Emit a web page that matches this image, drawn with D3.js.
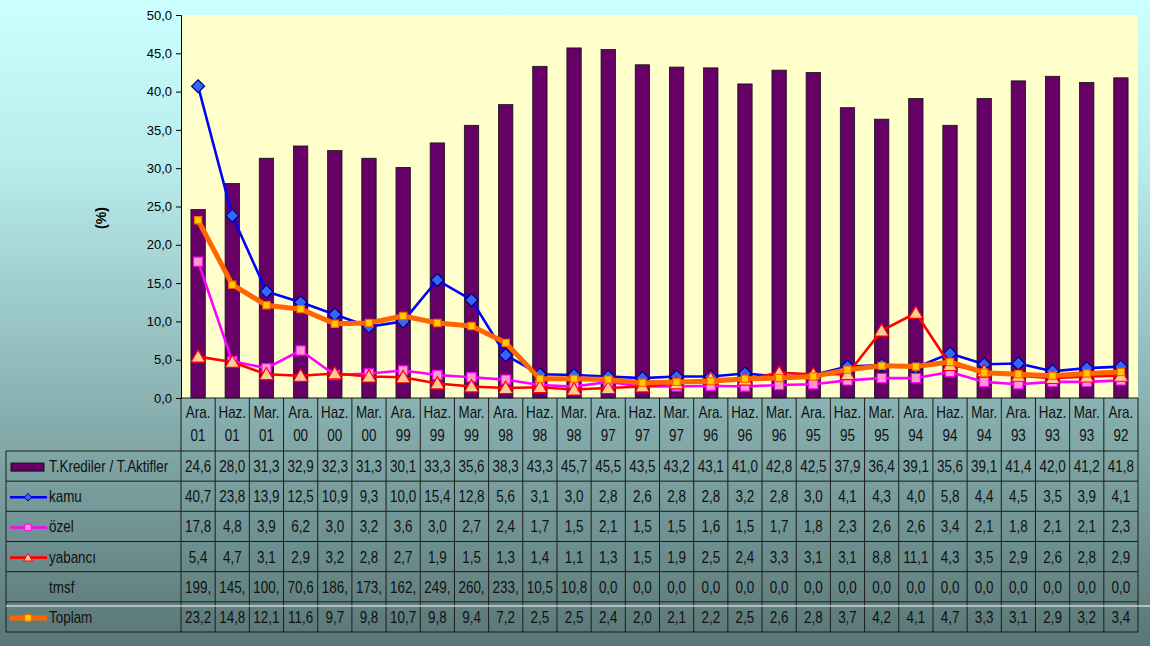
<!DOCTYPE html>
<html><head><meta charset="utf-8">
<script src="https://cdn.jsdelivr.net/npm/d3@7"></script>
<style>html,body{margin:0;padding:0;background:#fff;}svg{display:block;font-family:"Liberation Sans",Arial,sans-serif;}</style>
</head><body>
<script>
const categories = ["Ara. 01","Haz. 01","Mar. 01","Ara. 00","Haz. 00","Mar. 00","Ara. 99","Haz. 99","Mar. 99","Ara. 98","Haz. 98","Mar. 98","Ara. 97","Haz. 97","Mar. 97","Ara. 96","Haz. 96","Mar. 96","Ara. 95","Haz. 95","Mar. 95","Ara. 94","Haz. 94","Mar. 94","Ara. 93","Haz. 93","Mar. 93","Ara. 92"];
const krediAktif = [24.6,28.0,31.3,32.9,32.3,31.3,30.1,33.3,35.6,38.3,43.3,45.7,45.5,43.5,43.2,43.1,41.0,42.8,42.5,37.9,36.4,39.1,35.6,39.1,41.4,42.0,41.2,41.8];
const kamu = [40.7,23.8,13.9,12.5,10.9,9.3,10.0,15.4,12.8,5.6,3.1,3.0,2.8,2.6,2.8,2.8,3.2,2.8,3.0,4.1,4.3,4.0,5.8,4.4,4.5,3.5,3.9,4.1];
const ozel = [17.8,4.8,3.9,6.2,3.0,3.2,3.6,3.0,2.7,2.4,1.7,1.5,2.1,1.5,1.5,1.6,1.5,1.7,1.8,2.3,2.6,2.6,3.4,2.1,1.8,2.1,2.1,2.3];
const yabanci = [5.4,4.7,3.1,2.9,3.2,2.8,2.7,1.9,1.5,1.3,1.4,1.1,1.3,1.5,1.9,2.5,2.4,3.3,3.1,3.1,8.8,11.1,4.3,3.5,2.9,2.6,2.8,2.9];
const tmsf = [199,145,100,70.6,186,173,162,249,260,233,10.5,10.8,0,0,0,0,0,0,0,0,0,0,0,0,0,0,0,0];
const toplam = [23.2,14.8,12.1,11.6,9.7,9.8,10.7,9.8,9.4,7.2,2.5,2.5,2.4,2.0,2.1,2.2,2.5,2.6,2.8,3.7,4.2,4.1,4.7,3.3,3.1,2.9,3.2,3.4];
const yTicks = [0,5,10,15,20,25,30,35,40,45,50];
const seriesNames = ["T.Krediler / T.Aktifler","kamu","özel","yabancı","tmsf","Toplam"];

const W = 1150, H = 646;
const L = 181, R = 1138, T = 15, B = 398;
const svg = d3.select("body").append("svg").attr("width", W).attr("height", H);

const defs = svg.append("defs");
const g0 = defs.append("linearGradient").attr("id","bg").attr("x1",0).attr("y1",0).attr("x2",0).attr("y2",1);
g0.append("stop").attr("offset",0).attr("stop-color","#CCFFFF");
g0.append("stop").attr("offset",0.25).attr("stop-color","#B9EDED");
g0.append("stop").attr("offset",1).attr("stop-color","#5A7676");
svg.append("rect").attr("width",W).attr("height",H).attr("fill","url(#bg)");

const x = d3.scaleBand().domain(categories).range([L, R]).padding(0);
const y = d3.scaleLinear().domain([0, 50]).range([B, T]);
const bw = x.bandwidth();
const cx = c => x(c) + bw / 2;
const fmt = v => v.toFixed(1).replace(".", ",");

// plot area
svg.append("rect").attr("x", L).attr("y", T).attr("width", R - L).attr("height", B - T).attr("fill", "#FFFFCC");

// bars
svg.append("g").selectAll("rect").data(categories).join("rect")
  .attr("x", c => x(c) + bw * 0.29).attr("width", bw * 0.42)
  .attr("y", (c, i) => y(krediAktif[i])).attr("height", (c, i) => B - y(krediAktif[i]))
  .attr("fill", "#660066").attr("stroke", "#111").attr("stroke-width", 0.8);

// marker shapes
function diamond(r){ return `M0,${-r}L${r},0L0,${r}L${-r},0Z`; }
function square(r){ return `M${-r},${-r}H${r}V${r}H${-r}Z`; }
function triangle(r){ return `M0,${-r}L${r*1.05},${r*0.8}L${-r*1.05},${r*0.8}Z`; }

const lineSeries = [
  {vals: kamu, color: "#0000FF", w: 2.6, shape: diamond, r: 6.5, fill: "#3366FF", stroke: "#000080", lr: 3.8},
  {vals: ozel, color: "#FF00FF", w: 2.6, shape: square, r: 4.6, fill: "#FF99CC", stroke: "#FF00FF", lr: 3.2},
  {vals: yabanci, color: "#FF0000", w: 2.6, shape: triangle, r: 6.8, fill: "#FFCC99", stroke: "#FF0000", lr: 4.2},
  {vals: toplam, color: "#FF6600", w: 5, shape: square, r: 3.6, fill: "#FFCC00", stroke: "#FF6600", lr: 3.2}
];
const line = d3.line().x((d, i) => cx(categories[i])).y(d => y(d));
lineSeries.forEach(s => {
  svg.append("path").attr("d", line(s.vals)).attr("fill", "none")
    .attr("stroke", s.color).attr("stroke-width", s.w).attr("stroke-linejoin", "round");
  svg.append("g").selectAll("path").data(s.vals).join("path")
    .attr("transform", (d, i) => `translate(${cx(categories[i])},${y(d)})`)
    .attr("d", s.shape(s.r)).attr("fill", s.fill).attr("stroke", s.stroke).attr("stroke-width", 1.2);
});

// y axis
const yAxis = svg.append("g").attr("transform", `translate(${L},0)`)
  .call(d3.axisLeft(y).tickValues(yTicks).tickFormat(fmt).tickSize(5).tickPadding(4));
yAxis.select(".domain").attr("stroke", "#000").attr("stroke-width", 1);
yAxis.selectAll(".tick line").attr("stroke", "#000");
yAxis.selectAll("text").attr("font-size", 13).attr("fill", "#000").attr("font-family", "Liberation Sans, Arial, sans-serif");

svg.append("text").attr("transform", "translate(106,218) rotate(-90)")
  .attr("text-anchor", "middle").attr("font-weight", "bold").attr("font-size", 14).text("(%)");

// table
const tblL = 6, rowTop = 451, rowH = 30.17, nRows = 6;
const tbl = svg.append("g");
const lineCol = "#1c1c1c";
// header vertical lines and axis line
tbl.append("line").attr("x1", L).attr("x2", R).attr("y1", B).attr("y2", B).attr("stroke", lineCol);
const bounds = categories.map(c => x(c)).concat([R]);
tbl.selectAll(".vl").data(bounds).join("line")
  .attr("x1", d => d).attr("x2", d => d).attr("y1", B).attr("y2", rowTop + nRows * rowH)
  .attr("stroke", lineCol);
for (let r = 0; r <= nRows; r++) {
  tbl.append("line").attr("x1", tblL).attr("x2", R).attr("y1", rowTop + r * rowH).attr("y2", rowTop + r * rowH).attr("stroke", lineCol);
}
tbl.append("line").attr("x1", tblL).attr("x2", tblL).attr("y1", rowTop).attr("y2", rowTop + nRows * rowH).attr("stroke", lineCol);
svg.append("line").attr("x1", tblL).attr("x2", W).attr("y1", 606).attr("y2", 606).attr("stroke", "#fff").attr("stroke-width", 1);

function ntext(parent, tx, ty, str, anchor) {
  parent.append("g").attr("transform", `translate(${tx},${ty}) scale(0.84,1)`)
    .append("text").attr("text-anchor", anchor || "middle").attr("font-size", 16).attr("fill", "#111").text(str);
}
// category labels
categories.forEach(c => {
  const parts = c.split(" ");
  ntext(tbl, cx(c), 418, parts[0]);
  ntext(tbl, cx(c), 441, parts[1]);
});
// data rows
const rowsData = [krediAktif, kamu, ozel, yabanci, tmsf, toplam];
rowsData.forEach((arr, r) => {
  const base = rowTop + r * rowH + rowH / 2 + 6;
  arr.forEach((v, i) => ntext(tbl, cx(categories[i]), base, fmt(v).slice(0, 4)));
  ntext(tbl, 49, base, seriesNames[r], "start");
});
// legend keys
const keyY = r => rowTop + r * rowH + rowH / 2 + 1;
tbl.append("rect").attr("x", 11).attr("y", keyY(0) - 4).attr("width", 33).attr("height", 8)
  .attr("fill", "#660066").attr("stroke", "#111").attr("stroke-width", 1);
const keyRows = [1, 2, 3, 5];
lineSeries.forEach((s, k) => {
  const ky = keyY(keyRows[k]);
  tbl.append("line").attr("x1", 10).attr("x2", 47).attr("y1", ky).attr("y2", ky)
    .attr("stroke", s.color).attr("stroke-width", s.w);
  tbl.append("path").attr("transform", `translate(28,${ky})`).attr("d", s.shape(s.lr))
    .attr("fill", s.fill).attr("stroke", s.stroke).attr("stroke-width", 1);
});
</script>
</body></html>
